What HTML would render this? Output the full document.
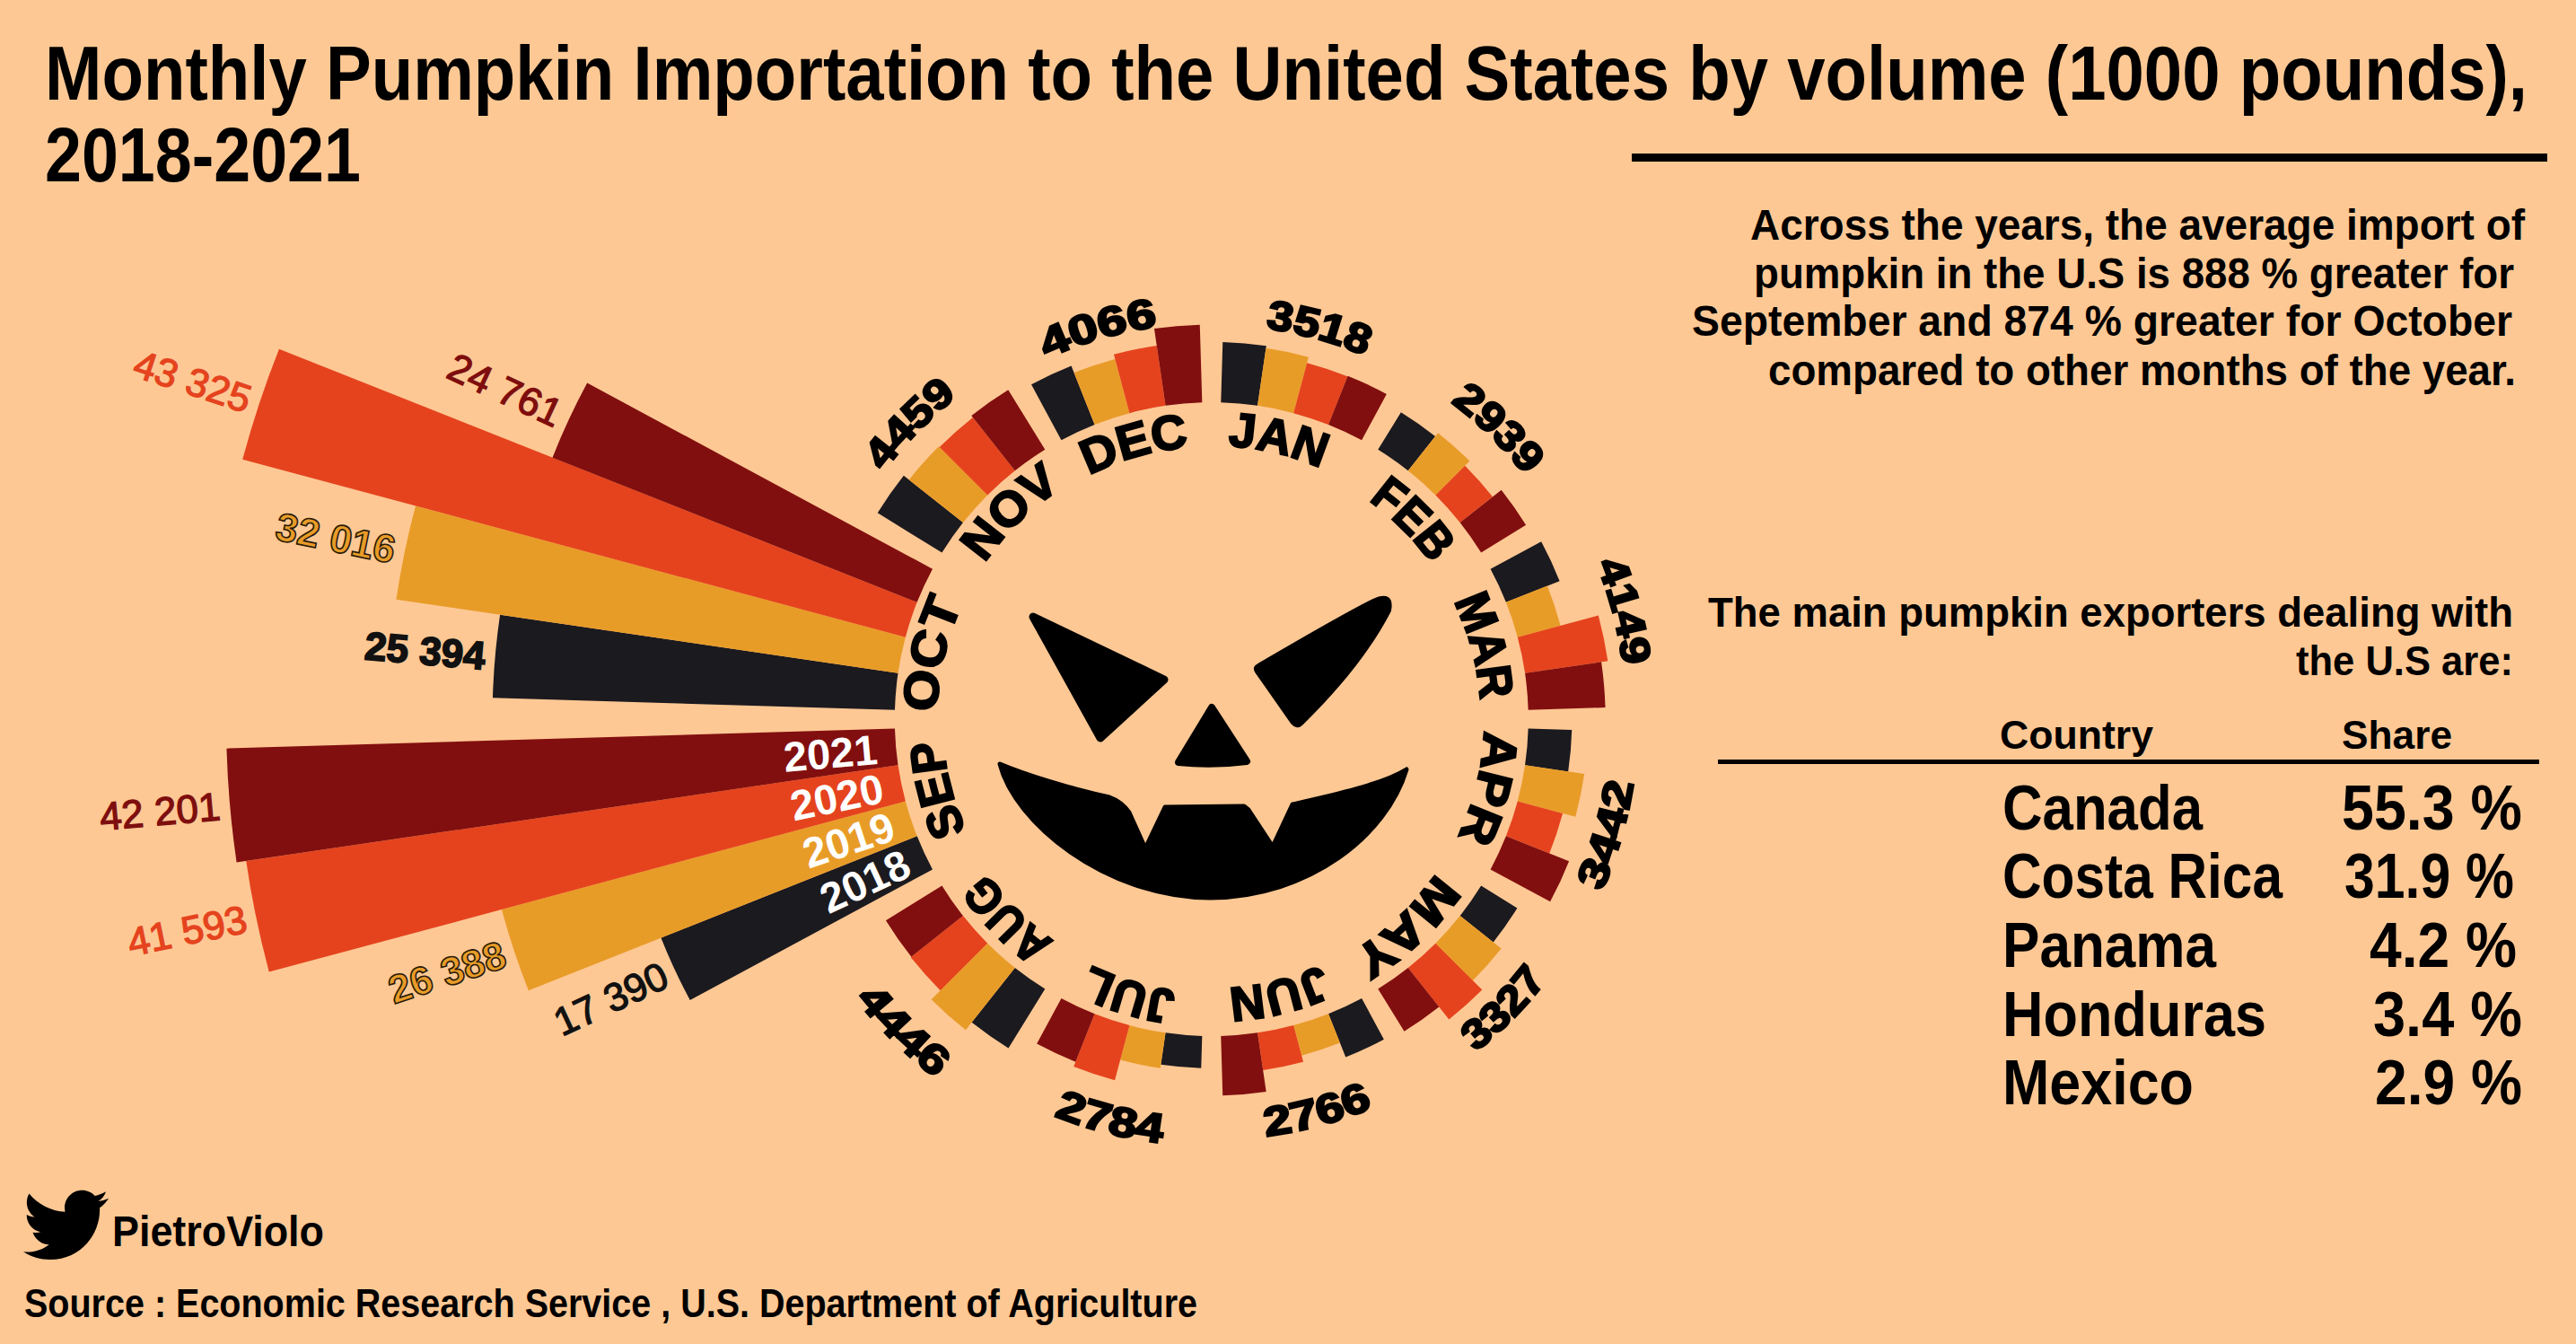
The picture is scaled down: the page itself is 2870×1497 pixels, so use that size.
<!DOCTYPE html>
<html><head><meta charset="utf-8">
<style>
html,body{margin:0;padding:0;background:#fec894;}
svg{display:block;}
text{font-family:"Liberation Sans",sans-serif;}
.ml{font-weight:bold;font-size:54px;fill:#000;stroke:#000;stroke-width:2.2px;}
.nl{font-weight:bold;font-size:46px;fill:#000;stroke:#000;stroke-width:2.4px;}
.vl{font-size:44px;}
.yl{font-size:47px;fill:#fff;font-weight:bold;}
.t{font-weight:bold;fill:#000;}
.tm{font-weight:normal;fill:#000;stroke:#000;stroke-width:1.9px;}
</style></head><body>
<svg width="2870" height="1497" viewBox="0 0 2870 1497">
<rect width="2870" height="1497" fill="#fec894"/>
<defs><path id="mp0" d="M1278.73,1097.70A305,305 0 0 1 1420.87,504.50A305,305 0 0 1 1278.73,1097.70"/><path id="mp1" d="M1136.93,1012.49A300,300 0 0 1 1562.67,589.71A300,300 0 0 1 1136.93,1012.49"/><path id="mp2" d="M1060.09,879.00A300,300 0 0 1 1639.51,723.20A300,300 0 0 1 1060.09,879.00"/><path id="mp3" d="M1054.77,727.81A304,304 0 0 1 1644.83,874.39A304,304 0 0 1 1054.77,727.81"/><path id="mp4" d="M1142.00,580.58A303,303 0 0 1 1557.60,1021.62A303,303 0 0 1 1142.00,580.58"/><path id="mp5" d="M1278.49,509.70A300,300 0 0 1 1421.11,1092.50A300,300 0 0 1 1278.49,509.70"/><path id="mp6" d="M1437.70,509.04A305,305 0 0 1 1261.90,1093.16A305,305 0 0 1 1437.70,509.04"/><path id="mp7" d="M1566.10,588.91A303,303 0 0 1 1133.50,1013.29A303,303 0 0 1 1566.10,588.91"/><path id="mp8" d="M1640.31,726.24A300,300 0 0 1 1059.29,875.96A300,300 0 0 1 1640.31,726.24"/><path id="mp9" d="M1647.90,870.20A306,306 0 0 1 1051.70,732.00A306,306 0 0 1 1647.90,870.20"/><path id="mp10" d="M1564.02,1021.00A307,307 0 0 1 1135.58,581.20A307,307 0 0 1 1564.02,1021.00"/><path id="mp11" d="M1432.32,1093.69A304,304 0 0 1 1267.28,508.51A304,304 0 0 1 1432.32,1093.69"/><path id="np0" d="M1233.09,1224.82A439.5,439.5 0 0 1 1466.51,377.38A439.5,439.5 0 0 1 1233.09,1224.82"/><path id="np1" d="M1039.10,1116.17A442.5,442.5 0 0 1 1660.50,486.03A442.5,442.5 0 0 1 1039.10,1116.17"/><path id="np2" d="M902.44,918.46A462.5,462.5 0 0 1 1797.16,683.74A462.5,462.5 0 0 1 902.44,918.46"/><path id="np3" d="M893.18,668.44A475.5,475.5 0 0 0 1806.42,933.76A475.5,475.5 0 0 0 893.18,668.44"/><path id="np4" d="M1013.24,468.04A473.5,473.5 0 0 0 1686.36,1134.16A473.5,473.5 0 0 0 1013.24,468.04"/><path id="np5" d="M1228.54,348.56A468.5,468.5 0 0 0 1471.06,1253.64A468.5,468.5 0 0 0 1228.54,348.56"/><path id="np6" d="M1466.44,340.13A475.5,475.5 0 0 0 1233.16,1262.07A475.5,475.5 0 0 0 1466.44,340.13"/><path id="np7" d="M1704.66,442.50A504.5,504.5 0 0 0 994.94,1159.70A504.5,504.5 0 0 0 1704.66,442.50"/><path id="np10" d="M1676.67,1121.20A457.5,457.5 0 0 1 1022.93,481.00A457.5,457.5 0 0 1 1676.67,1121.20"/><path id="np11" d="M1472.97,1225.07A441.5,441.5 0 0 1 1226.63,377.13A441.5,441.5 0 0 1 1472.97,1225.07"/></defs>
<text class="t" x="50" y="111" font-size="86" textLength="2766" lengthAdjust="spacingAndGlyphs">Monthly Pumpkin Importation to the United States by volume (1000 pounds),</text>
<text class="t" x="50" y="202" font-size="86" textLength="352" lengthAdjust="spacingAndGlyphs">2018-2021</text>
<rect x="1818" y="171" width="1020" height="9" fill="#000"/>
<text class="t" x="1950" y="267" font-size="48" textLength="863" lengthAdjust="spacingAndGlyphs">Across the years, the average import of</text>
<text class="t" x="1954" y="321" font-size="48" textLength="847" lengthAdjust="spacingAndGlyphs">pumpkin in the U.S is 888 % greater for</text>
<text class="t" x="1885" y="374" font-size="48" textLength="914" lengthAdjust="spacingAndGlyphs">September and 874 % greater for October</text>
<text class="t" x="1970" y="429" font-size="48" textLength="833" lengthAdjust="spacingAndGlyphs">compared to other months of the year.</text>
<text class="t" x="1903" y="698" font-size="46" textLength="897" lengthAdjust="spacingAndGlyphs">The main pumpkin exporters dealing with</text>
<text class="t" x="2558" y="752" font-size="46" textLength="242" lengthAdjust="spacingAndGlyphs">the U.S are:</text>
<text class="t" x="2228" y="834" font-size="45" textLength="171" lengthAdjust="spacingAndGlyphs">Country</text>
<text class="t" x="2609" y="834" font-size="45" textLength="123" lengthAdjust="spacingAndGlyphs">Share</text>
<rect x="1914" y="846" width="915" height="5" fill="#000"/>
<text class="t" x="2231" y="924" font-size="70" textLength="223" lengthAdjust="spacingAndGlyphs">Canada</text>
<text class="t" x="2231" y="1000" font-size="70" textLength="312" lengthAdjust="spacingAndGlyphs">Costa Rica</text>
<text class="t" x="2231" y="1077" font-size="70" textLength="238" lengthAdjust="spacingAndGlyphs">Panama</text>
<text class="t" x="2231" y="1154" font-size="70" textLength="294" lengthAdjust="spacingAndGlyphs">Honduras</text>
<text class="t" x="2231" y="1230" font-size="70" textLength="213" lengthAdjust="spacingAndGlyphs">Mexico</text>
<text class="t" x="2609" y="924" font-size="70" textLength="201" lengthAdjust="spacingAndGlyphs">55.3 %</text>
<text class="t" x="2612" y="1000" font-size="70" textLength="189" lengthAdjust="spacingAndGlyphs">31.9 %</text>
<text class="t" x="2640" y="1077" font-size="70" textLength="164" lengthAdjust="spacingAndGlyphs">4.2 %</text>
<text class="t" x="2644" y="1154" font-size="70" textLength="166" lengthAdjust="spacingAndGlyphs">3.4 %</text>
<text class="t" x="2646" y="1230" font-size="70" textLength="164" lengthAdjust="spacingAndGlyphs">2.9 %</text>
<path fill="#000" transform="translate(26,1317) scale(3.95)" d="M23.954 4.569c-.885.389-1.83.654-2.825.775 1.014-.611 1.794-1.574 2.163-2.723-.951.555-2.005.959-3.127 1.184-.896-.959-2.173-1.559-3.591-1.559-2.717 0-4.92 2.203-4.92 4.917 0 .39.045.765.127 1.124C7.691 8.094 4.066 6.13 1.64 3.161c-.427.722-.666 1.561-.666 2.475 0 1.71.87 3.213 2.188 4.096-.807-.026-1.566-.248-2.228-.616v.061c0 2.385 1.693 4.374 3.946 4.827-.413.111-.849.171-1.296.171-.314 0-.615-.03-.916-.086.631 1.953 2.445 3.377 4.604 3.417-1.68 1.319-3.809 2.105-6.102 2.105-.39 0-.779-.023-1.17-.067 2.189 1.394 4.768 2.209 7.557 2.209 9.054 0 13.999-7.496 13.999-13.986 0-.209 0-.42-.015-.63.961-.689 1.8-1.56 2.46-2.548l-.047-.02z"/>
<text class="t" x="125" y="1388" font-size="49" textLength="236" lengthAdjust="spacingAndGlyphs">PietroViolo</text>
<text class="t" x="27" y="1467" font-size="44" textLength="1307" lengthAdjust="spacingAndGlyphs">Source : Economic Research Service , U.S. Department of Agriculture</text>
<path d="M1360.27,448.26L1362.27,380.89A420.39,420.39 0 0 1 1410.85,385.16L1401.06,451.84A353.00,353.00 0 0 0 1360.27,448.26Z" fill="#1b1a1f"/>
<path d="M1401.06,451.84L1410.46,387.84A417.69,417.69 0 0 1 1457.91,397.64L1441.16,460.13A353.00,353.00 0 0 0 1401.06,451.84Z" fill="#e89c28"/>
<path d="M1441.16,460.13L1456.15,404.21A410.89,410.89 0 0 1 1501.39,419.19L1480.03,473.00A353.00,353.00 0 0 0 1441.16,460.13Z" fill="#e5431e"/>
<path d="M1480.03,473.00L1501.58,418.73A411.39,411.39 0 0 1 1544.84,438.88L1517.15,490.29A353.00,353.00 0 0 0 1480.03,473.00Z" fill="#820f0f"/>
<path d="M1535.29,500.76L1560.89,459.31A401.72,401.72 0 0 1 1599.05,486.05L1568.82,524.26A353.00,353.00 0 0 0 1535.29,500.76Z" fill="#1b1a1f"/>
<path d="M1568.82,524.26L1602.16,482.13A406.72,406.72 0 0 1 1637.40,513.50L1599.41,551.49A353.00,353.00 0 0 0 1568.82,524.26Z" fill="#e89c28"/>
<path d="M1599.41,551.49L1632.16,518.74A399.32,399.32 0 0 1 1662.96,553.33L1626.64,582.08A353.00,353.00 0 0 0 1599.41,551.49Z" fill="#e5431e"/>
<path d="M1626.64,582.08L1672.69,545.64A411.72,411.72 0 0 1 1700.10,584.75L1650.14,615.61A353.00,353.00 0 0 0 1626.64,582.08Z" fill="#820f0f"/>
<path d="M1660.61,633.75L1717.16,603.30A417.23,417.23 0 0 1 1737.60,647.17L1677.90,670.87A353.00,353.00 0 0 0 1660.61,633.75Z" fill="#1b1a1f"/>
<path d="M1677.90,670.87L1723.93,652.59A402.53,402.53 0 0 1 1738.61,696.92L1690.77,709.74A353.00,353.00 0 0 0 1677.90,670.87Z" fill="#e89c28"/>
<path d="M1690.77,709.74L1780.82,685.61A446.23,446.23 0 0 1 1791.30,736.30L1699.06,749.84A353.00,353.00 0 0 0 1690.77,709.74Z" fill="#e5431e"/>
<path d="M1699.06,749.84L1784.08,737.36A438.93,438.93 0 0 1 1788.54,788.08L1702.64,790.63A353.00,353.00 0 0 0 1699.06,749.84Z" fill="#820f0f"/>
<path d="M1702.64,811.57L1751.25,813.01A401.63,401.63 0 0 1 1747.17,859.42L1699.06,852.36A353.00,353.00 0 0 0 1702.64,811.57Z" fill="#1b1a1f"/>
<path d="M1699.06,852.36L1765.18,862.07A419.83,419.83 0 0 1 1755.32,909.76L1690.77,892.46A353.00,353.00 0 0 0 1699.06,852.36Z" fill="#e89c28"/>
<path d="M1690.77,892.46L1741.03,905.93A405.03,405.03 0 0 1 1726.25,950.53L1677.90,931.33A353.00,353.00 0 0 0 1690.77,892.46Z" fill="#e5431e"/>
<path d="M1677.90,931.33L1748.10,959.20A428.53,428.53 0 0 1 1727.11,1004.26L1660.61,968.45A353.00,353.00 0 0 0 1677.90,931.33Z" fill="#820f0f"/>
<path d="M1650.14,986.59L1690.38,1011.44A400.30,400.30 0 0 1 1663.73,1049.47L1626.64,1020.12A353.00,353.00 0 0 0 1650.14,986.59Z" fill="#1b1a1f"/>
<path d="M1626.64,1020.12L1672.59,1056.48A411.60,411.60 0 0 1 1640.84,1092.14L1599.41,1050.71A353.00,353.00 0 0 0 1626.64,1020.12Z" fill="#e89c28"/>
<path d="M1599.41,1050.71L1651.31,1102.61A426.40,426.40 0 0 1 1614.36,1135.50L1568.82,1077.94A353.00,353.00 0 0 0 1599.41,1050.71Z" fill="#e5431e"/>
<path d="M1568.82,1077.94L1603.32,1121.54A408.60,408.60 0 0 1 1564.51,1148.74L1535.29,1101.44A353.00,353.00 0 0 0 1568.82,1077.94Z" fill="#820f0f"/>
<path d="M1517.15,1111.91L1541.85,1157.78A405.09,405.09 0 0 1 1499.25,1177.62L1480.03,1129.20A353.00,353.00 0 0 0 1517.15,1111.91Z" fill="#1b1a1f"/>
<path d="M1480.03,1129.20L1492.87,1161.54A387.79,387.79 0 0 1 1450.17,1175.68L1441.16,1142.07A353.00,353.00 0 0 0 1480.03,1129.20Z" fill="#e89c28"/>
<path d="M1441.16,1142.07L1452.06,1182.73A395.09,395.09 0 0 1 1407.18,1192.01L1401.06,1150.36A353.00,353.00 0 0 0 1441.16,1142.07Z" fill="#e5431e"/>
<path d="M1401.06,1150.36L1410.69,1215.95A419.29,419.29 0 0 1 1362.24,1220.21L1360.27,1153.94A353.00,353.00 0 0 0 1401.06,1150.36Z" fill="#820f0f"/>
<path d="M1339.33,1153.94L1338.26,1189.79A388.86,388.86 0 0 1 1293.33,1185.84L1298.54,1150.36A353.00,353.00 0 0 0 1339.33,1153.94Z" fill="#1b1a1f"/>
<path d="M1298.54,1150.36L1292.75,1189.80A392.86,392.86 0 0 1 1248.12,1180.58L1258.44,1142.07A353.00,353.00 0 0 0 1298.54,1150.36Z" fill="#e89c28"/>
<path d="M1258.44,1142.07L1242.06,1203.18A416.26,416.26 0 0 1 1196.23,1188.00L1219.57,1129.20A353.00,353.00 0 0 0 1258.44,1142.07Z" fill="#e5431e"/>
<path d="M1219.57,1129.20L1198.33,1182.70A410.56,410.56 0 0 1 1155.16,1162.59L1182.45,1111.91A353.00,353.00 0 0 0 1219.57,1129.20Z" fill="#820f0f"/>
<path d="M1164.31,1101.44L1123.53,1167.46A430.60,430.60 0 0 1 1082.63,1138.79L1130.78,1077.94A353.00,353.00 0 0 0 1164.31,1101.44Z" fill="#1b1a1f"/>
<path d="M1130.78,1077.94L1075.87,1147.34A441.50,441.50 0 0 1 1037.61,1113.29L1100.19,1050.71A353.00,353.00 0 0 0 1130.78,1077.94Z" fill="#e89c28"/>
<path d="M1100.19,1050.71L1047.66,1103.24A427.30,427.30 0 0 1 1014.70,1066.22L1072.96,1020.12A353.00,353.00 0 0 0 1100.19,1050.71Z" fill="#e5431e"/>
<path d="M1072.96,1020.12L1015.33,1065.73A426.50,426.50 0 0 1 986.93,1025.21L1049.46,986.59A353.00,353.00 0 0 0 1072.96,1020.12Z" fill="#820f0f"/>
<path d="M1038.99,968.45L768.74,1113.97A659.93,659.93 0 0 1 736.42,1044.57L1021.70,931.33A353.00,353.00 0 0 0 1038.99,968.45Z" fill="#1b1a1f"/>
<path d="M1021.70,931.33L588.81,1103.17A818.75,818.75 0 0 1 558.95,1013.01L1008.83,892.46A353.00,353.00 0 0 0 1021.70,931.33Z" fill="#e89c28"/>
<path d="M1008.83,892.46L299.73,1082.47A1087.12,1087.12 0 0 1 274.21,958.97L1000.54,852.36A353.00,353.00 0 0 0 1008.83,892.46Z" fill="#e5431e"/>
<path d="M1000.54,852.36L263.59,960.53A1097.85,1097.85 0 0 1 252.44,833.67L996.96,811.57A353.00,353.00 0 0 0 1000.54,852.36Z" fill="#820f0f"/>
<path d="M996.96,790.63L548.95,777.33A801.20,801.20 0 0 1 557.09,684.75L1000.54,749.84A353.00,353.00 0 0 0 996.96,790.63Z" fill="#1b1a1f"/>
<path d="M1000.54,749.84L441.45,667.78A918.08,918.08 0 0 1 463.00,563.48L1008.83,709.74A353.00,353.00 0 0 0 1000.54,749.84Z" fill="#e89c28"/>
<path d="M1008.83,709.74L270.20,511.82A1117.69,1117.69 0 0 1 310.96,388.75L1021.70,670.87A353.00,353.00 0 0 0 1008.83,709.74Z" fill="#e5431e"/>
<path d="M1021.70,670.87L615.50,509.63A790.03,790.03 0 0 1 654.20,426.56L1038.99,633.75A353.00,353.00 0 0 0 1021.70,670.87Z" fill="#820f0f"/>
<path d="M1049.46,615.61L977.74,571.31A437.30,437.30 0 0 1 1006.85,529.77L1072.96,582.08A353.00,353.00 0 0 0 1049.46,615.61Z" fill="#1b1a1f"/>
<path d="M1072.96,582.08L1012.73,534.42A429.80,429.80 0 0 1 1045.88,497.18L1100.19,551.49A353.00,353.00 0 0 0 1072.96,582.08Z" fill="#e89c28"/>
<path d="M1100.19,551.49L1046.73,498.03A428.60,428.60 0 0 1 1083.87,464.98L1130.78,524.26A353.00,353.00 0 0 0 1100.19,551.49Z" fill="#e5431e"/>
<path d="M1130.78,524.26L1082.32,463.02A431.10,431.10 0 0 1 1123.27,434.31L1164.31,500.76A353.00,353.00 0 0 0 1130.78,524.26Z" fill="#820f0f"/>
<path d="M1182.45,490.29L1149.04,428.25A423.46,423.46 0 0 1 1193.57,407.51L1219.57,473.00A353.00,353.00 0 0 0 1182.45,490.29Z" fill="#1b1a1f"/>
<path d="M1219.57,473.00L1196.56,415.04A415.36,415.36 0 0 1 1242.30,399.89L1258.44,460.13A353.00,353.00 0 0 0 1219.57,473.00Z" fill="#e89c28"/>
<path d="M1258.44,460.13L1240.95,394.87A420.56,420.56 0 0 1 1288.73,384.99L1298.54,451.84A353.00,353.00 0 0 0 1258.44,460.13Z" fill="#e5431e"/>
<path d="M1298.54,451.84L1285.95,366.10A439.66,439.66 0 0 1 1336.76,361.63L1339.33,448.26A353.00,353.00 0 0 0 1298.54,451.84Z" fill="#820f0f"/>
<text class="ml"><textPath href="#mp0" startOffset="50%" text-anchor="middle" textLength="107.2" lengthAdjust="spacingAndGlyphs">JAN</textPath></text><text class="ml"><textPath href="#mp1" startOffset="50%" text-anchor="middle" textLength="100.4" lengthAdjust="spacingAndGlyphs">FEB</textPath></text><text class="ml"><textPath href="#mp2" startOffset="50%" text-anchor="middle" textLength="114.8" lengthAdjust="spacingAndGlyphs">MAR</textPath></text><text class="ml"><textPath href="#mp3" startOffset="50%" text-anchor="middle" textLength="122.8" lengthAdjust="spacingAndGlyphs">APR</textPath></text><text class="ml"><textPath href="#mp4" startOffset="50%" text-anchor="middle" textLength="131.6" lengthAdjust="spacingAndGlyphs">MAY</textPath></text><text class="ml"><textPath href="#mp5" startOffset="50%" text-anchor="middle" textLength="107.3" lengthAdjust="spacingAndGlyphs">JUN</textPath></text><text class="ml"><textPath href="#mp6" startOffset="50%" text-anchor="middle" textLength="99.3" lengthAdjust="spacingAndGlyphs">JUL</textPath></text><text class="ml"><textPath href="#mp7" startOffset="50%" text-anchor="middle" textLength="107.3" lengthAdjust="spacingAndGlyphs">AUG</textPath></text><text class="ml"><textPath href="#mp8" startOffset="50%" text-anchor="middle" textLength="105.2" lengthAdjust="spacingAndGlyphs">SEP</textPath></text><text class="ml"><textPath href="#mp9" startOffset="50%" text-anchor="middle" textLength="124.7" lengthAdjust="spacingAndGlyphs">OCT</textPath></text><text class="ml"><textPath href="#mp10" startOffset="50%" text-anchor="middle" textLength="120.7" lengthAdjust="spacingAndGlyphs">NOV</textPath></text><text class="ml"><textPath href="#mp11" startOffset="50%" text-anchor="middle" textLength="116.3" lengthAdjust="spacingAndGlyphs">DEC</textPath></text>
<text class="nl"><textPath href="#np0" startOffset="50%" text-anchor="middle" textLength="115.4" lengthAdjust="spacingAndGlyphs">3518</textPath></text><text class="nl"><textPath href="#np1" startOffset="50%" text-anchor="middle" textLength="117.0" lengthAdjust="spacingAndGlyphs">2939</textPath></text><text class="nl"><textPath href="#np2" startOffset="50%" text-anchor="middle" textLength="117.9" lengthAdjust="spacingAndGlyphs">4149</textPath></text><text class="nl"><textPath href="#np3" startOffset="50%" text-anchor="middle" textLength="126.6" lengthAdjust="spacingAndGlyphs">3442</textPath></text><text class="nl"><textPath href="#np4" startOffset="50%" text-anchor="middle" textLength="113.3" lengthAdjust="spacingAndGlyphs">3327</textPath></text><text class="nl"><textPath href="#np5" startOffset="50%" text-anchor="middle" textLength="123.9" lengthAdjust="spacingAndGlyphs">2766</textPath></text><text class="nl"><textPath href="#np6" startOffset="50%" text-anchor="middle" textLength="124.2" lengthAdjust="spacingAndGlyphs">2784</textPath></text><text class="nl"><textPath href="#np7" startOffset="50%" text-anchor="middle" textLength="126.1" lengthAdjust="spacingAndGlyphs">4446</textPath></text><text class="nl"><textPath href="#np10" startOffset="50%" text-anchor="middle" textLength="117.5" lengthAdjust="spacingAndGlyphs">4459</textPath></text><text class="nl"><textPath href="#np11" startOffset="50%" text-anchor="middle" textLength="129.5" lengthAdjust="spacingAndGlyphs">4066</textPath></text>
<text class="vl" font-size="44" fill="#111" stroke="#111" stroke-width="1.3" text-anchor="end" transform="translate(741.6,1084.4) rotate(-24.98)" x="0" y="15">17 390</text><text class="vl" font-size="44" fill="#e89c28" stroke="#2a1a08" stroke-width="1.6" font-weight="bold" text-anchor="end" transform="translate(562.1,1062.0) rotate(-18.33)" x="0" y="15">26 388</text><text class="vl" font-size="44" fill="#e5431e" stroke="#e5431e" stroke-width="1.3" text-anchor="end" transform="translate(274.4,1023.3) rotate(-11.68)" x="0" y="15">41 593</text><text class="vl" font-size="44" fill="#7e0e0e" stroke="#7e0e0e" stroke-width="1.3" text-anchor="end" transform="translate(245.2,898.2) rotate(-5.03)" x="0" y="15">42 201</text><text class="vl" font-size="48" fill="#111" stroke="#111" stroke-width="1.8" font-weight="bold" text-anchor="end" transform="translate(540.7,730.0) rotate(5.02)" x="0" y="16">25 394</text><text class="vl" font-size="44" fill="#e89c28" stroke="#2a1a08" stroke-width="1.6" font-weight="bold" text-anchor="end" transform="translate(439.9,613.1) rotate(11.68)" x="0" y="15">32 016</text><text class="vl" font-size="44" fill="#e5431e" stroke="#e5431e" stroke-width="1.3" text-anchor="end" transform="translate(278.4,446.2) rotate(18.32)" x="0" y="15">43 325</text><text class="vl" font-size="44" fill="#7e0e0e" stroke="#7e0e0e" stroke-width="1.3" text-anchor="end" transform="translate(623.7,462.9) rotate(24.97)" x="0" y="15">24 761</text>
<text class="yl" text-anchor="end" transform="translate(1010.8,959.0) rotate(-24.98)" x="0" y="17">2018</text><text class="yl" text-anchor="end" transform="translate(994.8,918.7) rotate(-18.33)" x="0" y="17">2019</text><text class="yl" text-anchor="end" transform="translate(983.5,876.8) rotate(-11.68)" x="0" y="17">2020</text><text class="yl" text-anchor="end" transform="translate(977.2,833.9) rotate(-5.03)" x="0" y="17">2021</text>

<g fill="#000" stroke="#000" stroke-linejoin="round">
<path stroke-width="9" d="M1151,687 L1297,757 L1226,822 Z"/>
<path stroke-width="4" d="M1402,741 C1435,722 1492,688 1530,669 Q1552,659 1548,680 C1530,715 1500,757 1450,806 Q1445,811 1440,805 L1400,748 Q1397,743 1402,741 Z"/>
<path stroke-width="8" d="M1350,788 L1389,848 Q1350,853 1313,849 Z"/>
<path stroke-width="5" d="M1114,851 C1140,862 1190,878 1236,888 Q1250,893 1258,905 L1276,945 L1298,899 L1386,898 L1391,902 L1418,943 L1440,896 C1480,887 1540,874 1567,857 C1545,930 1460,999 1348,1000 C1230,999 1130,915 1114,851 Z"/>
</g>
</svg>
</body></html>
